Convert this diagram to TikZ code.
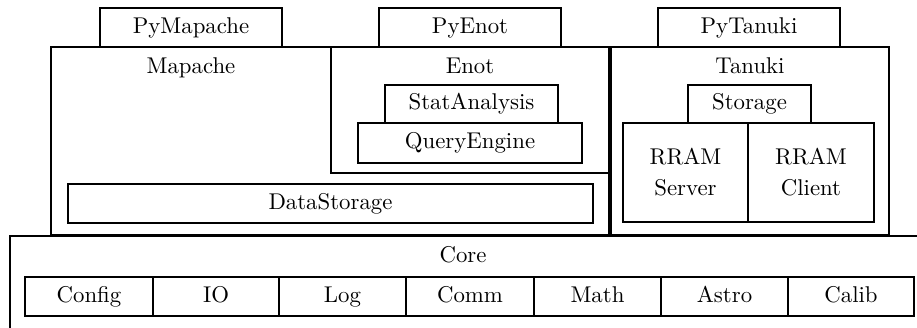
\documentclass[tikz,border=0pt]{standalone}
\begin{document}
\begin{tikzpicture}[x={(0.4386pt,0)}, y={(0,-0.4386pt)},
  box/.style={draw, line width=0.85pt, inner sep=0pt, font=\fontsize{10}{13.6}\selectfont, align=center},
  one/.style={text height=7pt, text depth=2pt},
  lbl/.style={inner sep=0pt, font=\fontsize{10}{12}\selectfont, text height=7pt, text depth=2pt}]
\clip (0,0) rectangle (917,327);
\newcommand\bx[7]{\node[box, #7, minimum width={(#4-#2)*0.4386pt}, minimum height={(#5-#3)*0.4386pt}] (#1) at ({(#2+#4)/2},{(#3+#5)/2}) {#6};}
% outer containers
\bx{core}{10}{236}{960}{380}{}{}
\bx{mapache}{51}{47}{609}{235}{}{}
\bx{enot}{331}{47}{609}{173}{}{}
\bx{tanuki}{611}{47}{889}{235}{}{}
% python wrappers
\bx{pymapache}{100}{8}{282}{47}{PyMapache}{one}
\bx{pyenot}{379}{8}{561}{47}{PyEnot}{one}
\bx{pytanuki}{658}{8}{840}{47}{PyTanuki}{one}
% labels
\node[lbl] (mapachelbl) at (191,68) {Mapache};
\node[lbl] (enotlbl) at (470,68) {Enot};
\node[lbl] (tanukilbl) at (750,68) {Tanuki};
\node[lbl] (corelbl) at (463,257) {Core};
% Enot content
\bx{stat}{385}{85}{558}{123}{StatAnalysis}{one}
\bx{query}{358}{123}{582}{163}{QueryEngine}{one}
% Mapache content
\bx{datastorage}{68}{184}{593}{223}{DataStorage}{one}
% Tanuki content
\bx{storage}{688}{85}{811}{123}{Storage}{one}
\bx{server}{623}{123}{748}{222}{RRAM\\Server}{}
\bx{client}{748}{123}{874}{222}{RRAM\\Client}{}
% Core cells
\bx{config}{25}{277}{153}{316}{Config}{one}
\bx{io}{153}{277}{279}{316}{IO}{one}
\bx{log}{279}{277}{406}{316}{Log}{one}
\bx{comm}{406}{277}{534}{316}{Comm}{one}
\bx{math}{534}{277}{661}{316}{Math}{one}
\bx{astro}{661}{277}{788}{316}{Astro}{one}
\bx{calib}{788}{277}{914}{316}{Calib}{one}
\end{tikzpicture}
\end{document}
